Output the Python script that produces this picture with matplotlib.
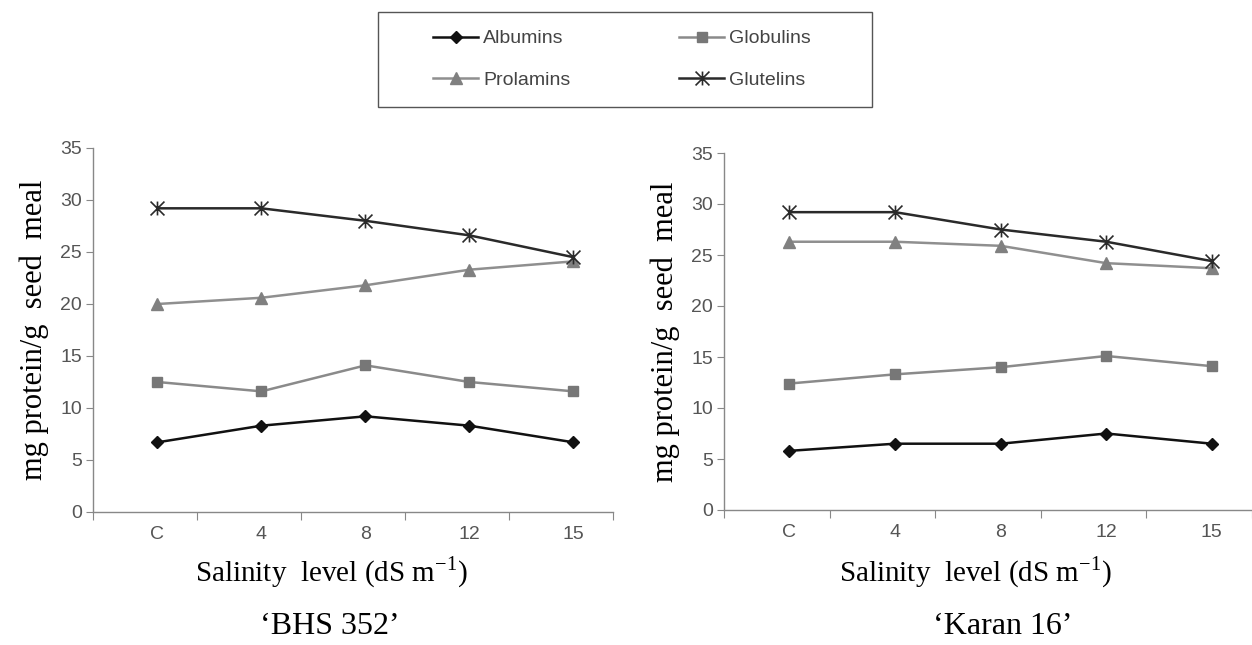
import numpy as np
import matplotlib.pyplot as plt
from matplotlib.lines import Line2D
from matplotlib.path import Path
from matplotlib.patches import Rectangle

levels = ['C', '4', '8', '12', '15']
yticks = [0, 5, 10, 15, 20, 25, 30, 35]

# BHS 352
bhs_alb = [6.7, 8.3, 9.2, 8.3, 6.7]
bhs_glob = [12.5, 11.6, 14.1, 12.5, 11.6]
bhs_prol = [20.0, 20.6, 21.8, 23.3, 24.1]
bhs_glut = [29.2, 29.2, 28.0, 26.6, 24.5]

# Karan 16
kar_alb = [5.8, 6.5, 6.5, 7.5, 6.5]
kar_glob = [12.4, 13.3, 14.0, 15.1, 14.1]
kar_prol = [26.3, 26.3, 25.9, 24.2, 23.7]
kar_glut = [29.2, 29.2, 27.5, 26.3, 24.4]

names = ['Albumins', 'Globulins', 'Prolamins', 'Glutelins']

# excel style star: an x with a vertical bar through it
star = Path([(-1, -1), (1, 1), (-1, 1), (1, -1), (0, -1), (0, 1)],
            [Path.MOVETO, Path.LINETO, Path.MOVETO, Path.LINETO, Path.MOVETO, Path.LINETO])

styles = {
    'Albumins': dict(color='#111111', marker='D', ms=6, mec='#111111', mfc='#111111'),
    'Globulins': dict(color='#8a8a8a', marker='s', ms=7, mec='#777777', mfc='#777777'),
    'Prolamins': dict(color='#8f8f8f', marker='^', ms=8, mec='#808080', mfc='#808080'),
    'Glutelins': dict(color='#2a2a2a', marker=star, ms=10, mew=1.2, mec='#2a2a2a', mfc='none'),
}

narrow = ['Liberation Sans Narrow', 'Liberation Sans', 'DejaVu Sans']
serif = ['Liberation Serif', 'DejaVu Serif']

fig = plt.figure(figsize=(12.52, 6.45), dpi=100)

panels = [
    ([93/1252, 1-512/645, 520/1252, 364/645], [bhs_alb, bhs_glob, bhs_prol, bhs_glut],
     "\u2018BHS 352\u2019", 330/1252, 331/1252),
    ([724/1252, 1-510/645, 528/1252, 357/645], [kar_alb, kar_glob, kar_prol, kar_glut],
     "\u2018Karan 16\u2019", 1003/1252, 975/1252),
]

x = np.arange(len(levels))
for rect, series, title, tx, lx in panels:
    ax = fig.add_axes(rect)
    for name, vals in zip(names, series):
        ax.plot(x, vals, lw=1.8, **styles[name])
    ax.set_xlim(-0.62, 4.38)
    ax.set_ylim(0, 35)
    ax.set_yticks(yticks)
    ax.set_yticklabels([str(v) for v in yticks], family=narrow, fontsize=14, color='#555555')
    ax.set_xticks(np.arange(-0.62, 4.5, 1.0))
    ax.set_xticklabels([])
    ax.set_xticks(x, minor=True)
    ax.set_xticklabels(levels, minor=True, family=narrow, fontsize=14, color='#555555')
    ax.tick_params(axis='x', which='major', direction='out', length=6, color='#888888')
    ax.tick_params(axis='x', which='minor', length=0, pad=10)
    ax.tick_params(axis='y', direction='out', length=5, color='#888888', pad=3)
    for s in ['top', 'right']:
        ax.spines[s].set_visible(False)
    for s in ['left', 'bottom']:
        ax.spines[s].set_color('#888888')
        ax.spines[s].set_linewidth(1.0)
    ax.set_ylabel('mg protein/g  seed  meal', family=serif, fontsize=22, labelpad=8)
    fig.text(lx, 1-572/645, 'Salinity  level (dS m$^{\\mathregular{-1}}$)', family=serif,
             fontsize=21, ha='center', va='center')
    fig.text(tx, 1-626/645, title, family=serif, fontsize=23, ha='center', va='center')

handles = [Line2D([0], [0], lw=1.8, **styles[n]) for n in names]
order = [0, 2, 1, 3]
leg = fig.legend([handles[i] for i in order], [names[i] for i in order], ncol=2,
                 loc='center', bbox_to_anchor=(622/1252, 1-59.5/645),
                 frameon=False, prop={'family': narrow, 'size': 14},
                 handlelength=2.3, columnspacing=5.6, labelspacing=1.25,
                 handletextpad=0.25, borderaxespad=0)
for t in leg.get_texts():
    t.set_color('#444444')
fig.patches.append(Rectangle((378/1252, 1-107/645), 494/1252, 95/645, transform=fig.transFigure,
                             fill=False, edgecolor='#555555', lw=1.0))

fig.savefig('out.png', dpi=100)
